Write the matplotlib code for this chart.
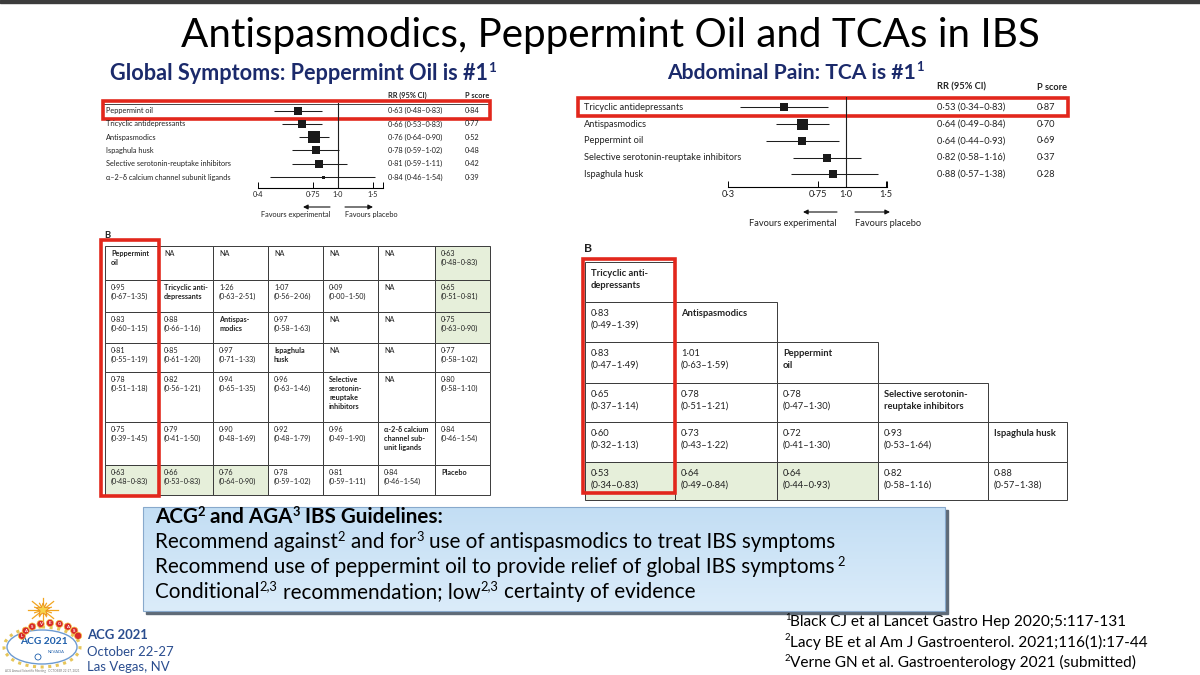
import re
import numpy as np
import matplotlib
matplotlib.use("Agg")
import matplotlib.pyplot as plt
from matplotlib.patches import Rectangle, Ellipse, Circle, Polygon
from matplotlib.colors import LinearSegmentedColormap
from matplotlib.transforms import blended_transform_factory
from matplotlib.ticker import NullLocator

# ---------------- data ----------------
title = "Antispasmodics, Peppermint Oil and TCAs in IBS"
left_subtitle = "Global Symptoms: Peppermint Oil is #1"
right_subtitle = "Abdominal Pain: TCA is #1"

left_labels = ["Peppermint oil", "Tricyclic antidepressants", "Antispasmodics",
               "Ispaghula husk", "Selective serotonin-reuptake inhibitors",
               "α–2–δ calcium channel subunit ligands"]
left_rr = [0.63, 0.66, 0.76, 0.78, 0.81, 0.84]
left_lo = [0.48, 0.53, 0.64, 0.59, 0.59, 0.46]
left_hi = [0.83, 0.83, 0.90, 1.02, 1.11, 1.54]
left_pscore = [0.84, 0.77, 0.52, 0.48, 0.42, 0.39]
left_weight = [0.6, 0.65, 1.0, 0.6, 0.6, 0.25]
left_ticks = [0.4, 0.75, 1.0, 1.5]
left_ticklabels = ["0·4", "0·75", "1·0", "1·5"]

right_labels = ["Tricyclic antidepressants", "Antispasmodics", "Peppermint oil",
                "Selective serotonin-reuptake inhibitors", "Ispaghula husk"]
right_rr = [0.53, 0.64, 0.64, 0.82, 0.88]
right_lo = [0.34, 0.49, 0.44, 0.58, 0.57]
right_hi = [0.83, 0.84, 0.93, 1.16, 1.38]
right_pscore = [0.87, 0.70, 0.69, 0.37, 0.28]
right_weight = [0.65, 1.0, 0.72, 0.72, 0.65]
right_ticks = [0.3, 0.75, 1.0, 1.5]
right_ticklabels = ["0·3", "0·75", "1·0", "1·5"]

left_table = [
    ["Peppermint\noil", "NA", "NA", "NA", "NA", "NA", "0·63\n(0·48–0·83)"],
    ["0·95\n(0·67–1·35)", "Tricyclic anti-\ndepressants", "1·26\n(0·63–2·51)", "1·07\n(0·56–2·06)", "0·09\n(0·00–1·50)", "NA", "0·65\n(0·51–0·81)"],
    ["0·83\n(0·60–1·15)", "0·88\n(0·66–1·16)", "Antispas-\nmodics", "0·97\n(0·58–1·63)", "NA", "NA", "0·75\n(0·63–0·90)"],
    ["0·81\n(0·55–1·19)", "0·85\n(0·61–1·20)", "0·97\n(0·71–1·33)", "Ispaghula\nhusk", "NA", "NA", "0·77\n(0·58–1·02)"],
    ["0·78\n(0·51–1·18)", "0·82\n(0·56–1·21)", "0·94\n(0·65–1·35)", "0·96\n(0·63–1·46)", "Selective\nserotonin-\nreuptake\ninhibitors", "NA", "0·80\n(0·58–1·10)"],
    ["0·75\n(0·39–1·45)", "0·79\n(0·41–1·50)", "0·90\n(0·48–1·69)", "0·92\n(0·48–1·79)", "0·96\n(0·49–1·90)", "α-2-δ calcium\nchannel sub-\nunit ligands", "0·84\n(0·46–1·54)"],
    ["0·63\n(0·48–0·83)", "0·66\n(0·53–0·83)", "0·76\n(0·64–0·90)", "0·78\n(0·59–1·02)", "0·81\n(0·59–1·11)", "0·84\n(0·46–1·54)", "Placebo"],
]

right_table = [
    ["Tricyclic anti-\ndepressants"],
    ["0·83\n(0·49–1·39)", "Antispasmodics"],
    ["0·83\n(0·47–1·49)", "1·01\n(0·63–1·59)", "Peppermint\noil"],
    ["0·65\n(0·37–1·14)", "0·78\n(0·51–1·21)", "0·78\n(0·47–1·30)", "Selective serotonin-\nreuptake inhibitors"],
    ["0·60\n(0·32–1·13)", "0·73\n(0·43–1·22)", "0·72\n(0·41–1·30)", "0·93\n(0·53–1·64)", "Ispaghula husk"],
    ["0·53\n(0·34–0·83)", "0·64\n(0·49–0·84)", "0·64\n(0·44–0·93)", "0·82\n(0·58–1·16)", "0·88\n(0·57–1·38)"],
]

guideline_lines = [
    [("ACG", 0), ("2", 1), (" and AGA", 0), ("3", 1), (" IBS Guidelines:", 0)],
    [("Recommend against", 0), ("2", 1), (" and for", 0), ("3", 1), (" use of antispasmodics to treat IBS symptoms", 0)],
    [("Recommend use of peppermint oil to provide relief of global IBS symptoms", 0), (" 2", 1)],
    [("Conditional", 0), ("2,3", 1), (" recommendation; low", 0), ("2,3", 1), (" certainty of evidence", 0)],
]
references = [
    [("1", 1), ("Black CJ et al Lancet Gastro Hep 2020;5:117-131", 0)],
    [("2", 1), ("Lacy BE et al Am J Gastroenterol. 2021;116(1):17-44", 0)],
    [("2", 1), ("Verne GN et al. Gastroenterology 2021 (submitted)", 0)],
]
meeting_lines = ["ACG 2021", "October 22-27", "Las Vegas, NV"]

# ---------------- setup ----------------
FAM = ["Lato", "DejaVu Sans"]
NAVY = "#1b2a6b"
RED = "#e2271c"
GREEN = "#e6efda"
PX = 72 / 100.0  # points per pixel

fig = plt.figure(figsize=(12, 6.75), dpi=100)
fig.patch.set_facecolor("white")
bg = fig.add_axes([0, 0, 1, 1])
bg.set_xlim(0, 1200)
bg.set_ylim(675, 0)
bg.axis("off")
R = fig.canvas.get_renderer()


def width_of(s, fs, weight="normal"):
    t = bg.text(600, 300, s, fontsize=fs, family=FAM, weight=weight)
    w = t.get_window_extent(renderer=R).width
    t.remove()
    return w


def adv(s, fs, weight="normal"):
    return width_of("|" + s + "|", fs, weight) - width_of("||", fs, weight)


def fit(s, width, weight="normal"):
    return 10.0 * width / width_of(s, 10, weight)


def rich_size(parts, fs, target, weight="normal", sup_scale=0.62):
    tot = sum(adv(s, fs * (sup_scale if sup else 1), weight) for s, sup in parts)
    return fs * target / tot


def rich(x, y, parts, fs, color="black", weight="normal", target=None,
         ha="left", sup_scale=0.62, sup_rise=0.36, zorder=5):
    if target:
        fs = rich_size(parts, fs, target, weight, sup_scale)
    W = sum(adv(s, fs * (sup_scale if sup else 1), weight) for s, sup in parts)
    cx = x - (W / 2 if ha == "center" else 0)
    for s, sup in parts:
        f = fs * (sup_scale if sup else 1)
        lead = s[:len(s) - len(s.lstrip())]
        dx = adv(lead, f, weight) if lead else 0
        yy = y - (fs * sup_rise / PX if sup else 0)
        if s.strip():
            bg.text(cx + dx, yy, s.strip(), fontsize=f, family=FAM, color=color,
                    weight=weight, va="baseline", ha="left", zorder=zorder)
        cx += adv(s, f, weight)
    return fs


def fig_axes(x0, y0, x1, y1):
    return fig.add_axes([x0 / 1200, 1 - y1 / 675, (x1 - x0) / 1200, (y1 - y0) / 675])


def fmt(v):
    return f"{v:.2f}".replace(".", "·")


# ---------------- top strip & title ----------------
bg.add_patch(Rectangle((0, 0), 1200, 3, color="#3c3c3c", zorder=1))
tfs = fit(title, 860)
bg.text(610, 47, title, fontsize=tfs, family=FAM, color="black", ha="center", va="baseline")

rich(110, 80, [(left_subtitle, 0), ("1", 1)], 14, color=NAVY, weight="bold", target=387)
rich(667, 79, [(right_subtitle, 0), ("1", 1)], 14, color=NAVY, weight="bold", target=258)


# ---------------- forest plots ----------------
def forest(x0, x1, ytop, ybot, row0, dy, xlo, pxunit, labels, rr, lo, hi, ps, weights,
           maxbox, ticks, ticklabels, fs, label_x, rr_x, p_x, header_y, fav_y, arrow_y,
           arrows, fav_x, topline=None):
    xhi = xlo * np.exp((x1 - x0) / pxunit)
    ax = fig_axes(x0, ytop, x1, ybot)
    ax.patch.set_alpha(0)
    ax.set_xscale("log")
    ax.set_xlim(xlo, xhi)
    ax.set_ylim((ybot - row0) / dy, (ytop - row0) / dy)
    n = len(labels)
    ys = np.arange(n)
    ax.hlines(ys, lo, hi, color="#1e1e1e", lw=0.75)
    for y, v, w in zip(ys, rr, weights):
        ax.plot(v, y, "s", ms=maxbox * w * PX, color="#1a1a1a", mew=0)
    ax.axvline(1.0, color="#1e1e1e", lw=0.8)
    for sp in ["left", "right", "top"]:
        ax.spines[sp].set_visible(False)
    ax.spines["bottom"].set_linewidth(0.8)
    ax.set_xticks(list(ticks) + [xhi])
    ax.set_xticklabels(list(ticklabels) + [""], fontsize=fs, family=FAM, color="#222")
    ax.xaxis.set_minor_locator(NullLocator())
    ax.tick_params(axis="x", direction="in", length=4, width=0.7, pad=2)
    ax.set_yticks([])
    tr = blended_transform_factory(bg.transData, ax.transData)
    for i in range(n):
        ax.text(label_x, i, labels[i], transform=tr, fontsize=fs, family=FAM,
                color="#222", va="center", clip_on=False)
        ax.text(rr_x, i, f"{fmt(rr[i])} ({fmt(lo[i])}–{fmt(hi[i])})", transform=tr,
                fontsize=fs, family=FAM, color="#222", va="center", clip_on=False)
        ax.text(p_x, i, fmt(ps[i]), transform=tr, fontsize=fs, family=FAM,
                color="#222", va="center", clip_on=False)
    bg.text(rr_x, header_y, "RR (95% CI)", fontsize=fs, family=FAM, weight="bold",
            color="#222", va="center")
    bg.text(p_x, header_y, "P score", fontsize=fs, family=FAM, weight="bold",
            color="#222", va="center")
    if topline:
        bg.plot(topline[:2], [topline[2]] * 2, color="#444", lw=0.7)
    (a0, a1), (b0, b1) = arrows
    for s, e in [(a0, a1), (b0, b1)]:
        bg.annotate("", xy=(e, arrow_y), xytext=(s, arrow_y),
                    arrowprops=dict(arrowstyle="-|>", color="#111", lw=0.8,
                                    mutation_scale=7, shrinkA=0, shrinkB=0))
    bg.text(fav_x[0], fav_y, "Favours experimental", fontsize=fs, family=FAM,
            color="#222", ha="center", va="center")
    bg.text(fav_x[1], fav_y, "Favours placebo", fontsize=fs, family=FAM,
            color="#222", ha="center", va="center")
    return ax


lfs = fit(left_labels[4], 126)
forest(258, 383, 103, 188, 110.7, 13.26, 0.4, 87, left_labels, left_rr, left_lo, left_hi,
       left_pscore, left_weight, 12, left_ticks, left_ticklabels, lfs,
       106, 388, 465, 95, 215, 207, ((330, 303), (345, 373)), (296, 371),
       topline=(103, 488, 103.5))
rfs = fit(right_labels[3], 159)
forest(728, 887, 97, 187, 107.3, 16.75, 0.3, 98, right_labels, right_rr, right_lo, right_hi,
       right_pscore, right_weight, 11, right_ticks, right_ticklabels, rfs,
       584, 937, 1037, 87, 223, 212, ((837, 803), (855, 890)), (793, 888))


# ---------------- tables ----------------
def upper_ci(s):
    m = re.search(r"–([0-9]+·[0-9]+)\)", s)
    return float(m.group(1).replace("·", ".")) if m else None


def draw_table(xe, ye, rows, fs, name_cells, shade_cells, pad_x, pad_y, ls):
    for i, row in enumerate(rows):
        for j, s in enumerate(row):
            shaded = (i, j) in shade_cells and upper_ci(s) is not None and upper_ci(s) < 1
            bg.add_patch(Rectangle((xe[j], ye[i]), xe[j + 1] - xe[j], ye[i + 1] - ye[i],
                                   fc=GREEN if shaded else "white", ec="#3a3a3a",
                                   lw=0.7, zorder=2))
            bg.text(xe[j] + pad_x, ye[i] + pad_y, s, fontsize=fs, family=FAM,
                    weight="bold" if (i, j) in name_cells else "normal",
                    color="#222", va="top", ha="left", linespacing=ls, zorder=3)


lt_x = [105, 158, 213, 268, 323, 378, 435, 490]
lt_y = [246, 280, 312, 343, 372, 422, 465, 495]
ltfs = fit("(0·67–1·35)", 37)
n_l = len(left_table)
draw_table(lt_x, lt_y, left_table, ltfs,
           {(k, k) for k in range(n_l)},
           {(k, n_l - 1) for k in range(n_l)} | {(n_l - 1, k) for k in range(n_l)},
           6, 4, 1.35)
bg.text(104, 236, "B", fontsize=ltfs * 1.3, family=FAM, weight="bold", color="#222", va="center")

rt_x = [585, 675, 777, 878, 988, 1067]
rt_y = [262, 302, 342, 383, 422, 462, 500]
rtfs = fit("(0·49–1·39)", 48)
n_r = len(right_table)
draw_table(rt_x, rt_y, right_table, rtfs,
           {(k, k) for k in range(n_r - 1)},
           {(n_r - 1, k) for k in range(len(right_table[-1]))},
           6, 7, 1.4)
bg.text(584, 249, "B", fontsize=rtfs * 1.3, family=FAM, weight="bold", color="#222", va="center")

# ---------------- red highlight boxes ----------------
for (x0, y0, x1, y1) in [(103, 101, 490, 119), (101, 240, 159, 496),
                         (578, 98, 1068, 116), (583, 259, 675, 493)]:
    bg.add_patch(Rectangle((x0, y0), x1 - x0, y1 - y0, fill=False, ec=RED, lw=2.6, zorder=8))

# ---------------- guideline box ----------------
bx0, by0, bx1, by1 = 143, 507, 945, 611
bg.add_patch(Rectangle((bx0 + 3, by0 + 3), bx1 - bx0, by1 - by0, color="#5f6b78", zorder=3))
cmap = LinearSegmentedColormap.from_list("bx", ["#c3def4", "#dbecfa"])
grad = np.linspace(0, 1, 64).reshape(-1, 1)
im = bg.imshow(grad, cmap=cmap, extent=(bx0, bx1, by1, by0), aspect="auto", zorder=4)
clip = Rectangle((bx0, by0), bx1 - bx0, by1 - by0, transform=bg.transData)
im.set_clip_path(clip)
bg.add_patch(Rectangle((bx0, by0), bx1 - bx0, by1 - by0, fill=False, ec="#88a9cc", lw=0.8, zorder=4))
bg.set_xlim(0, 1200)
bg.set_ylim(675, 0)

gfs = rich_size(guideline_lines[1], 16, 683)
baselines = [523, 548, 573, 598]
for k, parts in enumerate(guideline_lines):
    rich(155, baselines[k], parts, gfs, color="black",
         weight="bold" if k == 0 else "normal", zorder=6)

# ---------------- references ----------------
rfs2 = rich_size(references[1], 12, 363)
for k, parts in enumerate(references):
    rich(785, 626 + 20.5 * k, parts, rfs2, color="black", sup_rise=0.4)

# ---------------- meeting info + logo ----------------
mfs = fit(meeting_lines[1], 87)
for k, s in enumerate(meeting_lines):
    bg.text(87, [639, 656, 671][k], s, fontsize=mfs, family=FAM, color="#2a4d8f",
            weight="bold" if k == 0 else "normal", va="baseline")

# logo (simplified)
bg.add_patch(Ellipse((42, 647), 76, 40, fc="white", ec="#e6c65a", lw=2.2, ls=(0, (1, 1.5)), zorder=5))
bg.add_patch(Ellipse((42, 647), 70, 34, fc="white", ec="#6d9bd1", lw=1.0, zorder=5))
afs = fit("ACG 2021", 48, weight="bold")
bg.text(44, 642, "ACG 2021", fontsize=afs, family=FAM, weight="bold", color="#1d5eab",
        ha="center", va="center", zorder=6)
bg.text(56, 652, "NEVADA", fontsize=3, family=FAM, color="#1d5eab", ha="center", va="center", zorder=6)
bg.add_patch(Circle((38, 657), 3, fc="white", ec="#1d5eab", lw=0.6, zorder=6))
ang = np.linspace(np.pi * 0.92, np.pi * 0.08, 9)
for k, (a, ch) in enumerate(zip(ang, "LASVEGAS!")):
    cx, cy = 50 + 29 * np.cos(a), 640 - 17 * np.sin(a)
    bg.add_patch(Circle((cx, cy), 3.6, fc="#d82b2b", ec="#f4c542", lw=0.5, zorder=7))
    bg.text(cx, cy, ch if ch != "!" else "", fontsize=3.2, family=FAM, weight="bold",
            color="white", ha="center", va="center", zorder=8)
# starburst
for a in np.linspace(0, 2 * np.pi, 16, endpoint=False):
    L = 15 if int(round(a / (np.pi / 8))) % 2 == 0 else 9
    bg.plot([43, 43 + L * np.cos(a)], [610, 610 + L * 0.8 * np.sin(a)], color="#f2a51f", lw=0.9, zorder=6)
star = [(43 + (7 if k % 2 == 0 else 3) * np.cos(np.pi / 2 + k * np.pi / 5),
         610 - (7 if k % 2 == 0 else 3) * np.sin(np.pi / 2 + k * np.pi / 5)) for k in range(10)]
bg.add_patch(Polygon(star, fc="#f7d24a", ec="#e98b1c", lw=0.6, zorder=7))
bg.text(42, 671, "ACG Annual Scientific Meeting   OCTOBER 22-27, 2021", fontsize=2.2, family=FAM,
        color="#777", ha="center", va="center")

bg.set_xlim(0, 1200)
bg.set_ylim(675, 0)
fig.savefig("out.png", dpi=100, facecolor="white")
